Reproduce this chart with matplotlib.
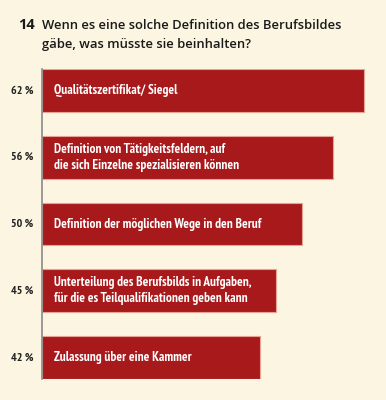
import matplotlib
matplotlib.use("Agg")
import matplotlib.pyplot as plt

categories = [
    "Qualitätszertifikat/ Siegel",
    "Definition von Tätigkeitsfeldern, auf\ndie sich Einzelne spezialisieren können",
    "Definition der möglichen Wege in den Beruf",
    "Unterteilung des Berufsbilds in Aufgaben,\nfür die es Teilqualifikationen geben kann",
    "Zulassung über eine Kammer",
]
values = [62, 56, 50, 45, 42]
value_labels = ["62 %", "56 %", "50 %", "45 %", "42 %"]
question_no = "14"
title_lines = ["Wenn es eine solche Definition des Berufsbildes",
               "gäbe, was müsste sie beinhalten?"]

BG = "#FBF5E1"
BAR = "#A8191C"
COND = ["PT Sans Narrow", "Fira Sans Condensed", "DejaVu Sans"]
HEAD = ["Open Sans", "DejaVu Sans"]

fig = plt.figure(figsize=(3.86, 4.0), dpi=100, facecolor=BG)
ax = fig.add_axes([42/386, 1-379/400, 1-42/386, (379-69)/400])
ax.set_facecolor(BG)
ypos = list(range(len(values)))
ax.barh(ypos, values, height=0.64, left=0, color=BAR, edgecolor="#E6A394", linewidth=0.8)
ax.set_xlim(0, 66.2)
ax.set_ylim(4.32, -0.32)
for s in ["top", "right", "bottom"]:
    ax.spines[s].set_visible(False)
ax.spines["left"].set_color("#8A8A8A")
ax.spines["left"].set_linewidth(1.2)
ax.set_xticks([])
ax.set_yticks([])

for y, cat, lab in zip(ypos, categories, value_labels):
    ax.text(2.3, y, cat, color="white", fontsize=9.5, fontweight="bold", family=COND,
            va="center", ha="left", linespacing=1.3)
    ax.text(-1.6, y, lab, color="#222222", fontsize=8.6, fontweight="bold", family=COND,
            va="center", ha="right")

fig.text(18/386, 1-29/400, question_no, fontsize=10.5, fontweight="bold", color="#1a1a1a",
         family=HEAD, va="baseline")
fig.text(42/386, 1-29/400, title_lines[0], fontsize=9.4, fontweight=600, color="#1a1a1a",
         family=HEAD, va="baseline")
fig.text(42/386, 1-48/400, title_lines[1], fontsize=9.4, fontweight=600, color="#1a1a1a",
         family=HEAD, va="baseline")

fig.savefig("out.png", dpi=100, facecolor=BG)
